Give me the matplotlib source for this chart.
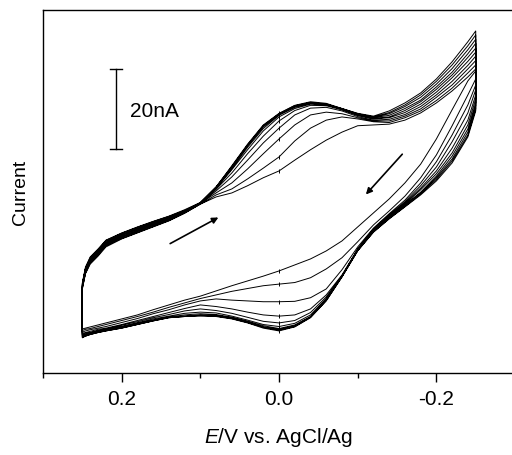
import matplotlib.pyplot as plt
from matplotlib.ticker import MultipleLocator

plt.rcParams['font.family'] = ['Liberation Sans', 'DejaVu Sans']
plt.rcParams['mathtext.fontset'] = 'custom'
plt.rcParams['mathtext.rm'] = 'Liberation Sans'
plt.rcParams['mathtext.it'] = 'Liberation Sans:italic'
plt.rcParams['axes.unicode_minus'] = False

# Potential grid (V vs. AgCl/Ag), same points for every sweep, +0.25 -> -0.25
E = [0.25, 0.246, 0.24, 0.23, 0.22, 0.20, 0.18, 0.16, 0.14, 0.12, 0.10, 0.08, 0.06, 0.04, 0.02, 0.0,
     -0.02, -0.04, -0.06, -0.08, -0.10, -0.12, -0.14, -0.16, -0.18, -0.20, -0.22, -0.24, -0.25]

# Current (nA) on the sweep towards negative potential, cycles 1..10
fwd_1 = [-5.0, -1.2, 1.2, 3.2, 5.5, 7.5, 9.0, 10.5, 12.0, 13.9, 16.2, 18.0, 19.0, 20.8, 22.8, 24.5,
         27.2, 29.8, 32.2, 34.2, 35.8, 36.0, 36.2, 37.2, 39.0, 41.5, 44.5, 48.0, 50.0]
fwd_2 = [-4.9, -1.0, 1.5, 3.5, 5.8, 7.6, 9.1, 10.6, 12.1, 14.0, 16.2, 18.5, 20.0, 22.5, 25.2, 28.0,
         32.0, 35.2, 37.2, 38.0, 37.5, 36.8, 36.6, 37.8, 39.5, 42.1, 45.2, 49.0, 51.0]
fwd_3 = [-4.6, -0.9, 1.6, 3.6, 5.9, 7.9, 9.4, 10.9, 12.2, 14.1, 16.4, 19.0, 21.5, 25.0, 28.8, 32.5,
         36.0, 38.5, 39.2, 38.8, 37.8, 37.0, 37.0, 38.2, 40.0, 42.9, 46.0, 50.0, 52.1]
fwd_4 = [-4.5, -0.6, 1.9, 3.9, 6.1, 8.0, 9.5, 11.0, 12.4, 14.1, 16.4, 19.5, 23.0, 27.2, 31.5, 35.2,
         38.5, 40.2, 40.4, 39.5, 38.1, 37.2, 37.4, 38.6, 40.6, 43.5, 46.9, 50.9, 53.2]
fwd_5 = [-4.4, -0.5, 2.0, 4.0, 6.2, 8.1, 9.6, 11.1, 12.5, 14.2, 16.4, 19.9, 24.0, 28.8, 33.2, 37.0,
         39.6, 40.9, 40.8, 39.8, 38.4, 37.5, 37.8, 39.1, 41.2, 44.2, 47.8, 51.9, 54.2]
fwd_6 = [-4.1, -0.2, 2.2, 4.2, 6.5, 8.4, 9.9, 11.2, 12.8, 14.4, 16.5, 20.1, 24.8, 29.8, 34.5, 38.0,
         40.1, 41.2, 41.0, 39.9, 38.5, 37.6, 38.0, 39.6, 41.8, 44.9, 48.5, 52.9, 55.2]
fwd_7 = [-4.0, -0.1, 2.4, 4.4, 6.6, 8.5, 10.0, 11.4, 12.9, 14.5, 16.5, 20.2, 25.1, 30.4, 35.1, 38.4,
         40.4, 41.4, 41.1, 40.0, 38.6, 37.8, 38.4, 40.1, 42.2, 45.5, 49.2, 53.8, 56.4]
fwd_8 = [-3.9, 0.1, 2.6, 4.6, 6.9, 8.6, 10.1, 11.6, 13.0, 14.5, 16.5, 20.4, 25.4, 30.8, 35.5, 38.6,
         40.6, 41.5, 41.2, 40.0, 38.6, 37.9, 38.8, 40.6, 42.9, 46.2, 50.1, 54.8, 57.4]
fwd_9 = [-3.6, 0.2, 2.8, 4.8, 7.1, 8.9, 10.4, 11.8, 13.1, 14.6, 16.6, 20.5, 25.6, 31.0, 35.8, 38.8,
         40.8, 41.6, 41.2, 40.1, 38.8, 38.0, 39.1, 41.0, 43.5, 46.9, 51.0, 55.8, 58.5]
fwd_10 = [-3.5, 0.5, 3.0, 5.0, 7.2, 9.0, 10.5, 11.9, 13.2, 14.8, 16.6, 20.5, 25.8, 31.2, 36.0, 38.9,
          40.9, 41.8, 41.4, 40.1, 38.9, 38.2, 39.5, 41.5, 44.0, 47.5, 51.8, 56.8, 59.5]

# Current (nA) on the return sweep, listed on the same potentials as E, cycles 1..10
rev_1 = [-15.0, -14.8, -14.5, -14.0, -13.5, -12.5, -11.5, -10.2, -9.0, -7.8, -6.8, -5.5, -4.2, -3.0, -1.8, -0.5,
         1.0, 2.5, 4.5, 7.0, 10.5, 14.0, 17.5, 21.5, 26.2, 32.5, 39.8, 47.0, 49.5]
rev_2 = [-15.4, -15.1, -14.9, -14.4, -13.9, -12.9, -11.9, -10.8, -9.6, -8.5, -7.4, -6.5, -5.6, -4.9, -4.2, -3.8,
         -3.4, -2.2, 0.0, 2.8, 6.8, 11.0, 14.5, 18.2, 22.8, 28.5, 35.8, 43.5, 47.5]
rev_3 = [-15.8, -15.5, -15.2, -14.8, -14.4, -13.4, -12.4, -11.2, -10.2, -9.0, -8.0, -7.5, -7.8, -8.0, -8.2, -8.2,
         -8.1, -7.2, -5.0, -0.2, 5.5, 10.2, 13.8, 17.2, 21.5, 26.8, 33.5, 41.0, 46.0]
rev_4 = [-16.1, -15.9, -15.6, -15.1, -14.8, -13.9, -12.9, -11.9, -10.9, -9.9, -9.0, -9.4, -10.0, -10.8, -11.5, -11.8,
         -11.5, -10.0, -6.5, -1.5, 5.0, 10.0, 13.5, 16.8, 20.8, 25.5, 31.8, 39.0, 44.8]
rev_5 = [-16.4, -16.1, -15.9, -15.4, -15.0, -14.1, -13.2, -12.2, -11.4, -10.5, -10.0, -10.4, -11.1, -12.1, -13.1, -13.5,
         -12.9, -10.9, -7.0, -1.8, 4.9, 9.8, 13.2, 16.5, 20.2, 24.5, 30.2, 37.2, 43.5]
rev_6 = [-16.6, -16.4, -16.0, -15.5, -15.1, -14.4, -13.5, -12.5, -11.8, -11.1, -10.8, -11.0, -11.8, -12.8, -13.9, -14.4,
         -13.6, -11.5, -7.4, -1.8, 4.8, 9.6, 13.0, 16.2, 19.8, 23.8, 29.0, 36.0, 42.5]
rev_7 = [-16.9, -16.5, -16.1, -15.6, -15.2, -14.5, -13.6, -12.8, -12.0, -11.5, -11.2, -11.4, -12.1, -13.1, -14.2, -14.9,
         -14.0, -11.9, -7.6, -1.9, 4.8, 9.5, 12.9, 16.0, 19.2, 23.2, 28.2, 35.0, 41.5]
rev_8 = [-17.0, -16.6, -16.2, -15.8, -15.4, -14.6, -13.8, -12.9, -12.1, -11.8, -11.5, -11.6, -12.2, -13.2, -14.5, -15.1,
         -14.2, -12.0, -7.8, -1.9, 4.6, 9.4, 12.8, 15.8, 19.0, 22.8, 27.5, 34.2, 40.8]
rev_9 = [-17.1, -16.8, -16.4, -15.9, -15.5, -14.8, -13.9, -13.0, -12.2, -11.9, -11.6, -11.8, -12.4, -13.4, -14.6, -15.3,
         -14.4, -12.1, -7.9, -2.0, 4.6, 9.2, 12.6, 15.6, 18.8, 22.4, 27.0, 33.5, 40.0]
rev_10 = [-17.2, -16.8, -16.4, -15.9, -15.5, -14.8, -13.9, -13.0, -12.2, -11.9, -11.8, -11.9, -12.5, -13.5, -14.8, -15.5,
          -14.5, -12.2, -8.0, -2.0, 4.5, 9.2, 12.5, 15.5, 18.5, 22.0, 26.5, 33.0, 39.5]

fwd = [fwd_1, fwd_2, fwd_3, fwd_4, fwd_5, fwd_6, fwd_7, fwd_8, fwd_9, fwd_10]
rev = [rev_1, rev_2, rev_3, rev_4, rev_5, rev_6, rev_7, rev_8, rev_9, rev_10]

# join all cycles into one continuous trace: forward sweep then return sweep
x, y = [], []
for f, r in zip(fwd, rev):
    x += E + E[::-1]
    y += f + r[::-1]

fig = plt.figure(figsize=(5.12, 4.56), dpi=100)
ax = fig.add_axes([0.084, 0.18, 0.922, 0.796])

ax.plot(x, y, color='k', lw=0.7)

# little point marks where each sweep crosses 0.0 V
i0 = E.index(0.0)
for f, r in zip(fwd, rev):
    ax.plot([0.0, 0.0], [f[i0], r[i0]], ls='none', marker='|', ms=2.5, mew=0.7, color='k')

# scan direction arrows
ax.annotate('', xy=(0.074, 13.2), xytext=(0.1415, 6.0),
            arrowprops=dict(arrowstyle='-|>', color='k', lw=1.2, mutation_scale=9))
ax.annotate('', xy=(-0.108, 18.1), xytext=(-0.159, 29.2),
            arrowprops=dict(arrowstyle='-|>', color='k', lw=1.2, mutation_scale=9))

# 20 nA scale bar
ax.plot([0.207, 0.207], [30, 50], color='k', lw=1.0)
ax.plot([0.215, 0.199], [50, 50], color='k', lw=1.0)
ax.plot([0.215, 0.199], [30, 30], color='k', lw=1.0)
ax.text(0.19, 39.5, '20nA', ha='left', va='center', fontsize=15)

ax.set_xlim(0.3, -0.3)
ax.set_ylim(-26, 64.75)
ax.set_yticks([])
ax.xaxis.set_major_locator(MultipleLocator(0.2))
ax.xaxis.set_minor_locator(MultipleLocator(0.1))
ax.tick_params(axis='x', which='major', direction='out', length=6.5, width=1.0, labelsize=15, pad=5)
ax.tick_params(axis='x', which='minor', direction='out', length=3.3, width=1.0)
for s in ax.spines.values():
    s.set_linewidth(1.0)

ax.set_xlabel('$E$/V vs. AgCl/Ag', fontsize=15, labelpad=12)
ax.set_ylabel('Current', fontsize=14, labelpad=10)

fig.savefig('out.png', dpi=100)
